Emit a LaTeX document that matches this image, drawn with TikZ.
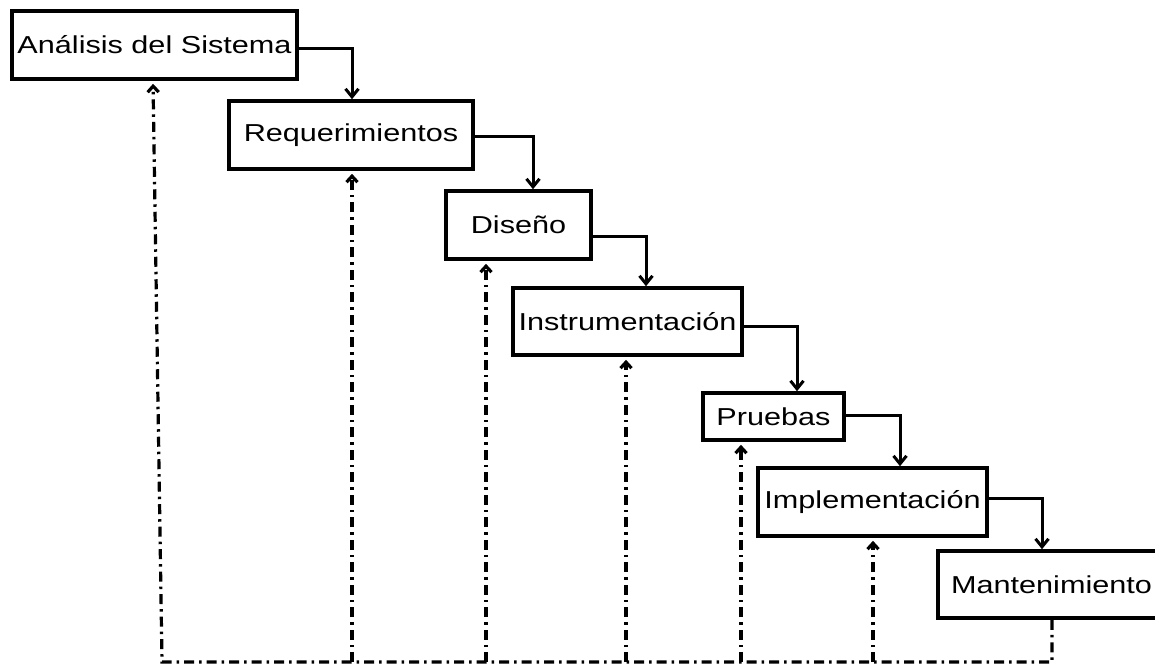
\documentclass[tikz,border=0pt]{standalone}
\usepackage{fontspec}
\setmainfont{Liberation Sans}[FakeStretch=1.25]
\usetikzlibrary{arrows.meta}
\begin{document}
\begin{tikzpicture}[x=1pt,y=-1pt,
  phase/.style={draw=black,line width=3.6pt,inner sep=0pt,align=center,
    font=\fontsize{24.5pt}{28pt}\selectfont},
  flow/.style={draw=black,line width=3pt,-{Straight Barb[length=8pt,width=13pt]}},
  feedback/.style={draw=black,line width=3.2pt,dash pattern=on 10pt off 5pt on 2.5pt off 5pt},
  back/.style={feedback,-{Straight Barb[length=6pt,width=11pt]},shorten >=3pt}]
\path[use as bounding box] (0,0) rectangle (1155,665);
\clip (0,0) rectangle (1155,665);

% phases of the waterfall
\node[phase,minimum width=285pt,minimum height=68pt] (a) at (154.5,45) {Análisis del Sistema};
\node[phase,minimum width=244pt,minimum height=68pt] (b) at (351,135) {Requerimientos};
\node[phase,minimum width=145pt,minimum height=68pt] (c) at (518.5,225) {Diseño};
\node[phase,minimum width=229pt,minimum height=67pt] (d) at (627.5,321.5) {Instrumentación};
\node[phase,minimum width=141pt,minimum height=47pt] (e) at (773.5,416.5) {Pruebas};
\node[phase,minimum width=229pt,minimum height=68pt] (f) at (872.5,502) {Implementación};
\node[phase,minimum width=227pt,minimum height=67pt] (g) at (1051.5,584.5) {Mantenimiento};

% forward steps
\draw[flow] ([yshift=-3pt]a.east) -| ([xshift=1pt]b.north);
\draw[flow] ([yshift=-1pt]b.east) -| ([xshift=14.5pt]c.north);
\draw[flow] ([yshift=-11pt]c.east) -| ([xshift=18.5pt]d.north);
\draw[flow] ([yshift=-4.5pt]d.east) -| ([xshift=23.5pt]e.north);
\draw[flow] ([yshift=1.5pt]e.east) -| ([xshift=27.5pt]f.north);
\draw[flow] ([yshift=4pt]f.east) -| ([xshift=-9.5pt]g.north);

% feedback loop back to every phase
\coordinate (bl) at (162,662);
\coordinate (fb2) at (352,662);
\coordinate (fb3) at (486,662);
\coordinate (fb4) at (626,662);
\coordinate (fb5) at (741,662);
\coordinate (fb6) at (873,662);
\draw[back] ([xshift=0.5pt]g.south) |- (bl) -- ([xshift=-1.5pt]a.south);
\draw[back] (fb2) -- (fb2 |- b.south);
\draw[back] (fb3) -- (fb3 |- c.south);
\draw[back] (fb4) -- (fb4 |- d.south);
\draw[back] (fb5) -- (fb5 |- e.south);
\draw[back] (fb6) -- (fb6 |- f.south);
\end{tikzpicture}
\end{document}
